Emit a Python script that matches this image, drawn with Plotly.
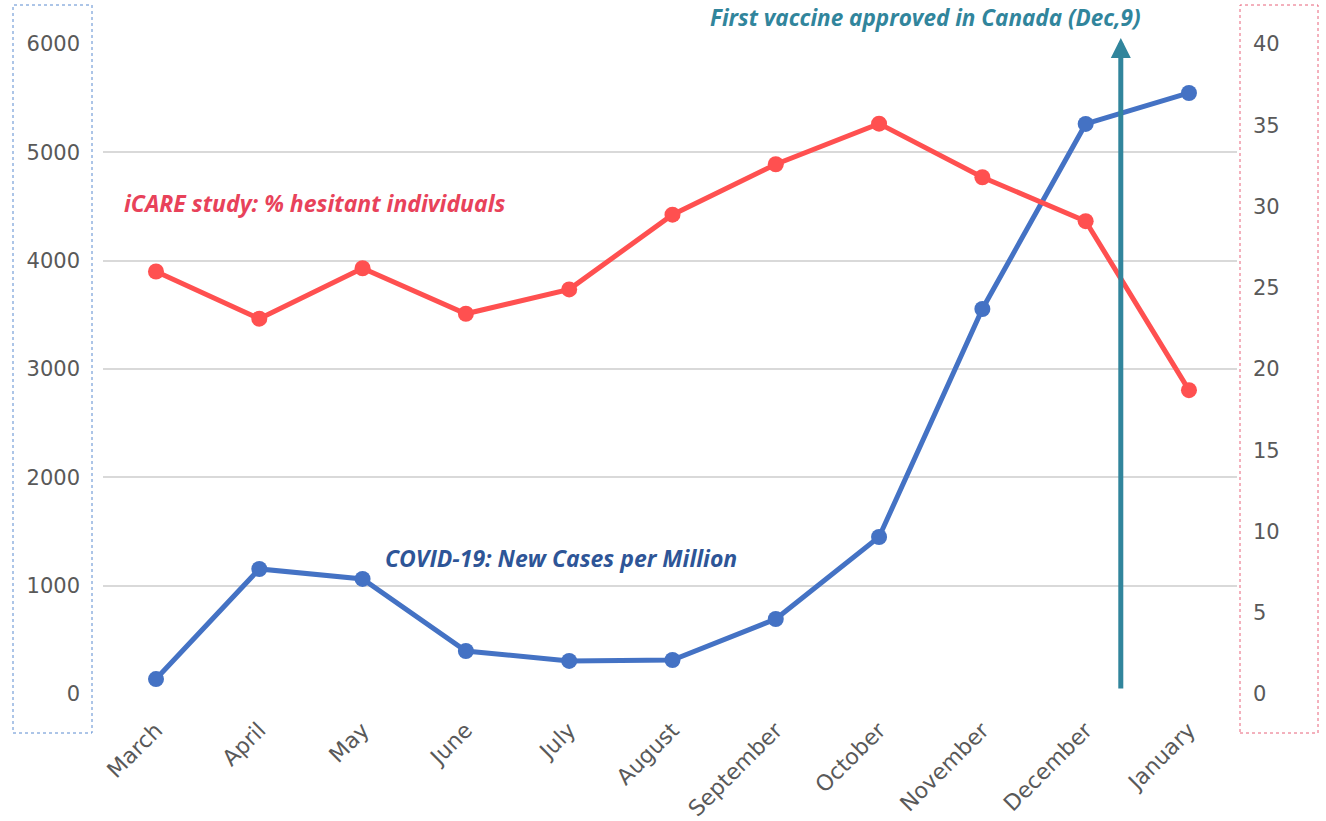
import plotly.graph_objects as go

months = ["March", "April", "May", "June", "July", "August", "September",
          "October", "November", "December", "January"]
new_cases_per_million = [138, 1154, 1062, 397, 305, 314, 692, 1449, 3554, 5262, 5548]
hesitant_pct = [26.0, 23.1, 26.2, 23.4, 24.9, 29.5, 32.6, 35.1, 31.8, 29.1, 18.7]
left_ticks = [0, 1000, 2000, 3000, 4000, 5000, 6000]
right_ticks = [0, 5, 10, 15, 20, 25, 30, 35, 40]
vaccine_label = "First vaccine approved in Canada (Dec,9)"
vaccine_pos = 9.34  # between December and January (Dec 9 roughly)

BLUE = "#4472C4"
RED = "#FF5050"
TEAL = "#31859C"
GRID = "#D9D9D9"
TICK = "#595959"
FONT = "DejaVu Sans"

# plot area spans x 103..1237, y 44..694 on screen
L, R, T, B = 103, 89, 44, 127
W, H = 1326, 821
PW, PH = 1134, 650


def px(xs):
    return (xs - 103) / PW


def py(ys):
    return (694 - ys) / PH


fig = go.Figure()
x_idx = list(range(len(months)))
fig.add_trace(go.Scatter(
    x=x_idx, y=new_cases_per_million, mode="lines+markers",
    line=dict(color=BLUE, width=5), marker=dict(color=BLUE, size=16),
    yaxis="y", showlegend=False, cliponaxis=False))
fig.add_trace(go.Scatter(
    x=x_idx, y=hesitant_pct, mode="lines+markers",
    line=dict(color=RED, width=5), marker=dict(color=RED, size=16),
    yaxis="y2", showlegend=False, cliponaxis=False))

fig.update_layout(
    width=W, height=H,
    margin=dict(l=L, r=R, t=T, b=B, autoexpand=False),
    paper_bgcolor="white", plot_bgcolor="white",
    font=dict(family=FONT, color=TICK, size=21),
    xaxis=dict(tickmode="array", tickvals=x_idx, ticktext=months,
               range=[-0.513, 10.465], tickangle=-45, showgrid=False,
               zeroline=False, showline=False, ticks="",
               ticklabelstandoff=18,
               tickfont=dict(size=22, color=TICK, family=FONT)),
    yaxis=dict(range=[0, 6000], tickvals=left_ticks, showgrid=True,
               gridcolor=GRID, gridwidth=2, zeroline=False, showline=False,
               ticks="", ticklabelstandoff=22,
               tickfont=dict(size=21, color=TICK, family=FONT)),
    yaxis2=dict(range=[0, 40], tickvals=right_ticks, overlaying="y",
                side="right", showgrid=False, zeroline=False, showline=False,
                ticks="", ticklabelstandoff=15,
                tickfont=dict(size=21, color=TICK, family=FONT)),
)

# dotted boxes around the axes
fig.add_shape(type="rect", xref="paper", yref="paper",
              x0=px(13), x1=px(92), y0=py(733), y1=py(5),
              line=dict(color="#5B8BD0", width=1, dash="dot"))
fig.add_shape(type="rect", xref="paper", yref="paper",
              x0=px(1240), x1=px(1318), y0=py(733), y1=py(5),
              line=dict(color="#E8637A", width=1, dash="dot"))

# vaccine arrow
fig.add_annotation(x=vaccine_pos, y=6055, ax=vaccine_pos, ay=37,
                   xref="x", yref="y", axref="x", ayref="y",
                   showarrow=True, arrowhead=2, arrowsize=0.8, arrowwidth=5,
                   arrowcolor=TEAL, text="")
fig.add_annotation(xref="paper", yref="paper",
                   x=px(925), y=py(0.5),
                   text="<b><i>" + vaccine_label + "</i></b>", showarrow=False,
                   font=dict(family="Open Sans", size=22.5, color=TEAL),
                   xanchor="center", yanchor="top", borderpad=0)
fig.add_annotation(xref="paper", yref="paper",
                   x=px(314), y=py(203),
                   text="<b><i>iCARE study: % hesitant individuals</i></b>",
                   showarrow=False,
                   font=dict(family="Open Sans", size=23, color="#E8425A"),
                   xanchor="center", yanchor="middle")
fig.add_annotation(xref="paper", yref="paper",
                   x=px(561), y=py(558),
                   text="<b><i>COVID-19: New Cases per Million</i></b>",
                   showarrow=False,
                   font=dict(family="Open Sans", size=23, color="#2E5597"),
                   xanchor="center", yanchor="middle")

fig.write_html("out.html",
               config={"displayModeBar": False},
               post_script="document.body.style.margin='0';"
                           "document.body.style.overflow='hidden';")
